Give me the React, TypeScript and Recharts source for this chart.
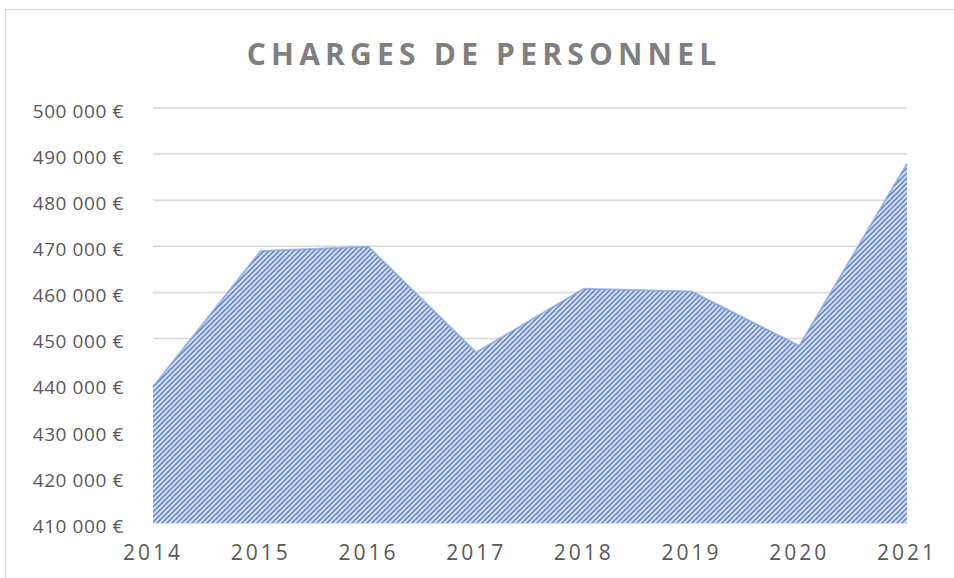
import { AreaChart, Area, XAxis, YAxis, CartesianGrid } from 'recharts'

const years = ['2014', '2015', '2016', '2017', '2018', '2019', '2020', '2021']
const charges = [439500, 469000, 469900, 447000, 460800, 460200, 448400, 487900]
const yTicks = [410000, 420000, 430000, 440000, 450000, 460000, 470000, 480000, 490000, 500000]

const data = years.map((year, i) => ({ year, charges: charges[i] }))

const formatEuro = (v: number) => {
  const s = Math.round(v).toString().replace(/\B(?=(\d{3})+(?!\d))/g, '\u00a0')
  return `${s}\u00a0€`
}

export default function App() {
  return (
    <div
      style={{
        position: 'absolute',
        left: 0,
        top: 0,
        width: 954,
        height: 578,
        background: '#fff',
        overflow: 'hidden',
        fontFamily: '"Open Sans", sans-serif',
      }}
    >
      {/* cadre du graphique */}
      <div
        style={{
          position: 'absolute',
          left: 5,
          top: 9,
          width: 970,
          height: 600,
          borderLeft: '1.5px solid #d9d9d9',
          borderTop: '1.5px solid #d9d9d9',
        }}
      />
      <div
        style={{
          position: 'absolute',
          left: 0,
          top: 36,
          width: 954,
          textAlign: 'center',
          fontSize: 30,
          fontWeight: 700,
          letterSpacing: 5.2,
          color: '#7f7f7f',
          lineHeight: '36px',
          paddingLeft: 14,
          boxSizing: 'border-box',
        }}
      >
        CHARGES DE PERSONNEL
      </div>
      <div style={{ position: 'absolute', left: 0, top: 0 }}>
        <AreaChart width={954} height={578} data={data} margin={{ top: 108, right: 47, left: 0, bottom: 0 }}>
          <defs>
            <pattern id="hatch" width="5" height="5" patternUnits="userSpaceOnUse">
              <rect width="5" height="5" fill="#d3dff7" />
              <path d="M-1,1 l2,-2 M0,5 l5,-5 M4,6 l2,-2" stroke="#5f82d0" strokeWidth="1.5" />
            </pattern>
          </defs>
          <CartesianGrid vertical={false} stroke="#d9d9d9" strokeWidth={1.5} />
          <XAxis
            dataKey="year"
            height={55}
            axisLine={false}
            tickLine={false}
            tickSize={0}
            tickMargin={22}
            tick={{ fontSize: 21, fill: '#595959', letterSpacing: 3 }}
          />
          <YAxis
            width={153}
            domain={[410000, 500000]}
            ticks={yTicks}
            axisLine={false}
            tickLine={false}
            tickSize={0}
            tickMargin={29}
            tickFormatter={formatEuro}
            tick={{ fontSize: 19, fill: '#595959', letterSpacing: 0.6, dy: 3 }}
          />
          <Area
            type="linear"
            dataKey="charges"
            stroke="#7e9bd8"
            strokeWidth={2}
            strokeOpacity={0.7}
            fill="url(#hatch)"
            fillOpacity={1}
            isAnimationActive={false}
          />
        </AreaChart>
      </div>
    </div>
  )
}
